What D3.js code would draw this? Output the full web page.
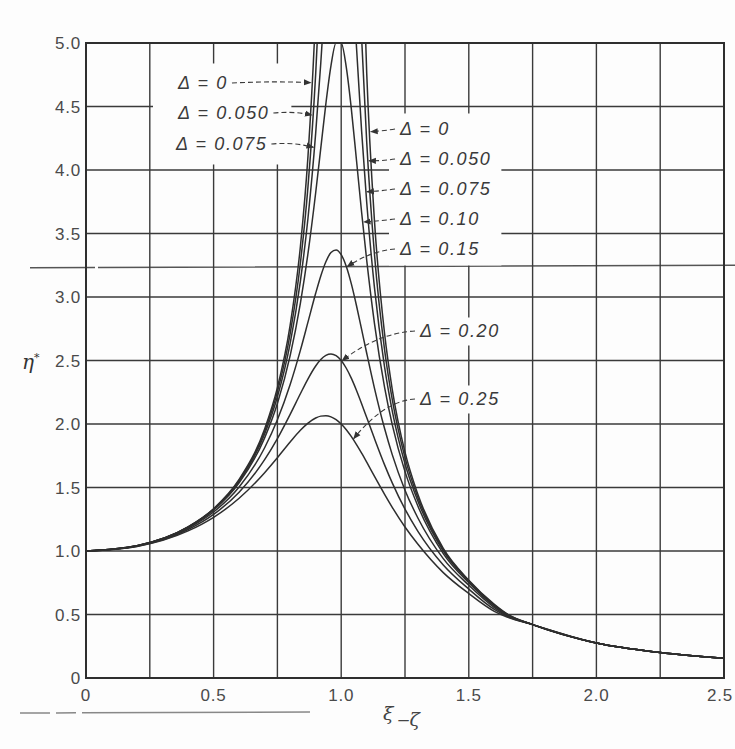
<!DOCTYPE html>
<html><head><meta charset="utf-8">
<script src="https://cdn.jsdelivr.net/npm/d3@7"></script>
<style>
html,body{margin:0;padding:0;background:#fff;}
svg{display:block;}
</style></head><body>
<svg id="chart" width="735" height="749"></svg>
<script>
// ---- data ----
const xi = [0, 0.2, 0.4, 0.5, 0.6, 0.7, 0.75, 0.8, 0.84, 0.87, 0.9, 0.92, 0.94, 0.96, 0.98, 1.0, 1.02, 1.04, 1.06, 1.08, 1.1, 1.13, 1.17, 1.2, 1.25, 1.3, 1.4, 1.5, 1.6, 1.65, 1.75, 2.0, 2.25, 2.5];
const eta_000 = [1.0, 1.042, 1.190, 1.333, 1.563, 1.961, 2.286, 2.778, 3.396, 4.113, 5.263, 6.51, null, null, null, null, null, null, null, 6.01, 4.762, 3.611, 2.711, 2.273, 1.778, 1.449, 1.02, 0.77, 0.58, 0.505, 0.42, 0.275, 0.20, 0.155];
const eta_050 = [1.0, 1.042, 1.189, 1.330, 1.556, 1.943, 2.253, 2.712, 3.266, 3.873, 4.757, 5.586, 6.683, null, null, null, null, null, 6.141, 5.041, 4.218, 3.344, 2.584, 2.193, 1.735, 1.424, 1.01, 0.765, 0.575, 0.502, 0.42, 0.275, 0.20, 0.155];
const eta_075 = [1.0, 1.041, 1.187, 1.327, 1.547, 1.921, 2.214, 2.635, 3.123, 3.624, 4.290, 4.843, 5.469, 6.099, 6.568, 6.667, 6.319, 5.680, 4.965, 4.306, 3.744, 3.080, 2.448, 2.104, 1.687, 1.395, 1.0, 0.76, 0.57, 0.50, 0.42, 0.275, 0.20, 0.155];
const eta_100 = [1.0, 1.041, 1.185, 1.322, 1.536, 1.891, 2.162, 2.538, 2.950, 3.345, 3.821, 4.172, 4.523, 4.822, 5.001, 5.0, 4.808, 4.476, 4.075, 3.667, 3.288, 2.797, 2.289, 1.995, 1.625, 1.356, 0.98, 0.75, 0.565, 0.497, 0.42, 0.275, 0.20, 0.155];
const eta_150 = [1.0, 1.040, 1.179, 1.307, 1.504, 1.813, 2.033, 2.311, 2.580, 2.804, 3.029, 3.166, 3.278, 3.350, 3.371, 3.333, 3.240, 3.101, 2.931, 2.745, 2.557, 2.285, 1.964, 1.759, 1.479, 1.262, 0.94, 0.73, 0.555, 0.492, 0.42, 0.275, 0.20, 0.155];
const eta_200 = [1.0, 1.038, 1.169, 1.288, 1.463, 1.719, 1.885, 2.076, 2.238, 2.356, 2.457, 2.508, 2.541, 2.552, 2.538, 2.5, 2.439, 2.359, 2.264, 2.160, 2.051, 1.887, 1.678, 1.536, 1.329, 1.157, 0.89, 0.70, 0.54, 0.486, 0.42, 0.275, 0.20, 0.155];
const eta_250 = [1.0, 1.036, 1.158, 1.265, 1.415, 1.617, 1.735, 1.858, 1.950, 2.007, 2.047, 2.062, 2.065, 2.056, 2.034, 2.0, 1.955, 1.900, 1.837, 1.770, 1.699, 1.589, 1.446, 1.344, 1.189, 1.055, 0.83, 0.665, 0.525, 0.48, 0.42, 0.275, 0.20, 0.155];
const deltaNames = ["0", "0.050", "0.075", "0.10", "0.15", "0.20", "0.25"];
const seriesEta = [eta_000, eta_050, eta_075, eta_100, eta_150, eta_200, eta_250];

const xTicks = [0, 0.5, 1.0, 1.5, 2.0, 2.5];
const xTickLabels = ["0", "0.5", "1.0", "1.5", "2.0", "2.5"];
const yTicks = [0, 0.5, 1.0, 1.5, 2.0, 2.5, 3.0, 3.5, 4.0, 4.5, 5.0];
const yTickLabels = ["0", "0.5", "1.0", "1.5", "2.0", "2.5", "3.0", "3.5", "4.0", "4.5", "5.0"];
const xGrid = [0.25, 0.5, 0.75, 1.0, 1.25, 1.5, 1.75, 2.0, 2.25];
const yGrid = [0.5, 1.0, 1.5, 2.0, 2.5, 3.0, 3.5, 4.0, 4.5];

// label annotations: which series, where the arrow meets the curve (xi)
const leftLabels = [
  {s: 0, at: 0.885, tx: 178, ty: 83},
  {s: 1, at: 0.889, tx: 178, ty: 113},
  {s: 2, at: 0.895, tx: 176, ty: 144}
];
const rightLabels = [
  {s: 0, at: 1.112, tx: 400, ty: 129},
  {s: 1, at: 1.105, tx: 400, ty: 159},
  {s: 2, at: 1.097, tx: 400, ty: 189},
  {s: 3, at: 1.084, tx: 400, ty: 219},
  {s: 4, at: 1.02,  tx: 400, ty: 249},
  {s: 5, at: 1.0,   tx: 420, ty: 331},
  {s: 6, at: 1.045, tx: 420, ty: 399}
];

// ---- drawing ----
const svg = d3.select("#chart");
const x = d3.scaleLinear().domain([0, 2.5]).range([86, 724]);
const y = d3.scaleLinear().domain([0, 5]).range([678, 43]);
const ink = "#2e2e2e";

svg.append("rect").attr("width", 735).attr("height", 749).attr("fill", "#fdfdfd");

// scan artefact lines
svg.append("line").attr("x1", 30).attr("x2", 735).attr("y1", y(3.23)).attr("y2", y(3.25))
  .attr("stroke", "#555").attr("stroke-width", 1.6).attr("stroke-dasharray", "65,3,700");
svg.append("line").attr("x1", 20).attr("x2", 310).attr("y1", 713).attr("y2", 712)
  .attr("stroke", "#888").attr("stroke-width", 1.5).attr("stroke-dasharray", "30,6,20,6,400");

const grid = svg.append("g").attr("stroke", "#3a3a3a").attr("stroke-width", 1.4);
grid.selectAll(".vx").data(xGrid).join("line")
  .attr("x1", d => x(d)).attr("x2", d => x(d)).attr("y1", y(0)).attr("y2", y(5));
grid.selectAll(".hy").data(yGrid).join("line")
  .attr("x1", x(0)).attr("x2", x(2.5)).attr("y1", d => y(d)).attr("y2", d => y(d));

// labels (measured first to clear grid behind them)
const labelFont = {family: "'Liberation Sans', Arial, sans-serif", size: 18};
const labG = svg.append("g");
function addLabel(l) {
  return labG.append("text")
    .attr("x", l.tx).attr("y", l.ty).attr("dy", "0.36em")
    .attr("font-family", labelFont.family).attr("font-size", labelFont.size)
    .attr("font-style", "italic").attr("letter-spacing", 1.6)
    .attr("fill", "#3a3a3a")
    .text("Δ = " + deltaNames[l.s]);
}
const leftTexts = leftLabels.map(addLabel);
const rightTexts = rightLabels.map(addLabel);

function clearBehind(texts, padX, padY) {
  const boxes = texts.map(t => t.node().getBBox());
  const x0 = d3.min(boxes, b => b.x) - padX, x1 = d3.max(boxes, b => b.x + b.width) + padX;
  const y0 = d3.min(boxes, b => b.y) - padY, y1 = d3.max(boxes, b => b.y + b.height) + padY;
  svg.insert("rect", () => labG.node()).attr("x", x0).attr("y", y0)
    .attr("width", x1 - x0).attr("height", y1 - y0).attr("fill", "#fdfdfd");
}
clearBehind(leftTexts, 22, 10);
clearBehind(rightTexts.slice(0, 5), 10, 6);
clearBehind([rightTexts[5]], 6, 4);
clearBehind([rightTexts[6]], 6, 4);

// curves
svg.append("clipPath").attr("id", "plotclip").append("rect")
  .attr("x", x(0)).attr("y", y(5)).attr("width", x(2.5) - x(0)).attr("height", y(0) - y(5));
const line = d3.line()
  .defined(d => d[1] != null)
  .x(d => x(d[0])).y(d => y(d[1]))
  .curve(d3.curveMonotoneX);
const curves = svg.append("g").attr("clip-path", "url(#plotclip)");
seriesEta.forEach(arr => {
  curves.append("path")
    .datum(xi.map((v, i) => [v, arr[i]]))
    .attr("d", line).attr("fill", "none")
    .attr("stroke", ink).attr("stroke-width", 1.5);
});

// frame
svg.append("rect").attr("x", x(0)).attr("y", y(5)).attr("width", x(2.5) - x(0)).attr("height", y(0) - y(5))
  .attr("fill", "none").attr("stroke", ink).attr("stroke-width", 2);

// leaders
function etaAt(arr, v) {
  for (let i = 0; i < xi.length - 1; i++) {
    if (v >= xi[i] && v <= xi[i + 1] && arr[i] != null && arr[i + 1] != null) {
      const t = (v - xi[i]) / (xi[i + 1] - xi[i]);
      return arr[i] + t * (arr[i + 1] - arr[i]);
    }
  }
  return null;
}
svg.append("defs").append("marker").attr("id", "arr").attr("viewBox", "0 0 10 10")
  .attr("refX", 9).attr("refY", 5).attr("markerWidth", 7).attr("markerHeight", 7)
  .attr("orient", "auto-start-reverse")
  .append("path").attr("d", "M0,1 L10,5 L0,9 z").attr("fill", "#333");
const leadG = svg.append("g").attr("fill", "none").attr("stroke", "#3a3a3a")
  .attr("stroke-width", 1.1).attr("stroke-dasharray", "5,3");
leftLabels.forEach((l, i) => {
  const b = leftTexts[i].node().getBBox();
  const px = x(l.at), py = y(etaAt(seriesEta[l.s], l.at));
  const sx = b.x + b.width + 4, sy = l.ty;
  leadG.append("path")
    .attr("d", `M${sx},${sy} Q${(sx + px) / 2},${sy - 2} ${px - 1},${py}`)
    .attr("marker-end", "url(#arr)");
});
rightLabels.forEach((l, i) => {
  const b = rightTexts[i].node().getBBox();
  const px = x(l.at), py = y(etaAt(seriesEta[l.s], l.at));
  const sx = b.x - 4, sy = l.ty;
  leadG.append("path")
    .attr("d", `M${sx},${sy} Q${(sx + px) / 2},${sy + 2} ${px + 1},${py}`)
    .attr("marker-end", "url(#arr)");
});

// tick labels
const tickFont = "'Liberation Sans', Arial, sans-serif";
svg.append("g").selectAll("text").data(yTicks).join("text")
  .attr("x", 81).attr("y", d => y(d)).attr("dy", "0.36em")
  .attr("text-anchor", "end").attr("font-family", tickFont).attr("font-size", 17)
  .attr("letter-spacing", 0.8).attr("fill", "#4a4a4a")
  .text((d, i) => yTickLabels[i]);
svg.append("g").selectAll("text").data(xTicks).join("text")
  .attr("x", (d, i) => i === xTicks.length - 1 ? 733 : x(d)).attr("y", 701)
  .attr("text-anchor", (d, i) => i === xTicks.length - 1 ? "end" : "middle")
  .attr("font-family", tickFont).attr("font-size", 17)
  .attr("letter-spacing", 0.8).attr("fill", "#4a4a4a")
  .text((d, i) => xTickLabels[i]);

// axis titles
const yt = svg.append("text").attr("x", 22).attr("y", 369)
  .attr("font-family", "'DejaVu Serif', serif").attr("font-style", "italic")
  .attr("font-size", 20).attr("fill", "#333");
yt.append("tspan").text("η");
yt.append("tspan").attr("dy", -8).attr("font-size", 11).text("*");
const xt = svg.append("text").attr("x", 383).attr("y", 720)
  .attr("font-family", "'DejaVu Serif', serif").attr("font-style", "italic")
  .attr("font-size", 19).attr("fill", "#444");
xt.append("tspan").text("ξ");
xt.append("tspan").attr("dx", 4).attr("dy", 6).text("‒ζ");
</script>
</body></html>
